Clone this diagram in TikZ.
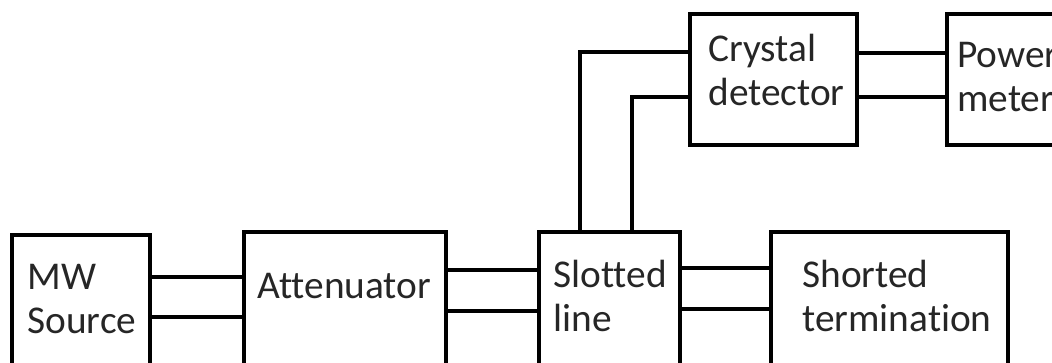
\documentclass[tikz,border=0pt]{standalone}
\usepackage{fontspec}
\setmainfont{Carlito}[Ligatures=NoCommon]
\usetikzlibrary{positioning}
\begin{document}
\begin{tikzpicture}[
  x=0.02cm, y=-0.02cm,
  box/.style={draw, line width=2pt, anchor=north west, inner sep=0pt},
  lbl/.style={anchor=base west, align=left, inner sep=0pt, text=black!85, font=\fontsize{22.4}{25}\selectfont},
  wire/.style={line width=1.8pt},
]
\clip (0,0) rectangle (1052,362);
% --- Blocks ---
\foreach \n/\x/\y/\w/\h in {mw/10/233/138/160, att/242/230/202/160, slot/537/230/141/160, short/769/230/237/160, crys/688/12/167/131, pow/945/12/140/131}{
  \node[box, minimum width=\w*0.02cm, minimum height=\h*0.02cm] (\n) at (\x,\y) {};
}

% --- Labels (base = last line) ---
\node[lbl] (mwlbl) at (27,333) {MW\\Source};
\node[lbl] (attlbl) at (257,298) {Attenuator};
\node[lbl] (slotlbl) at (553,331) {Slotted\\line};
\node[lbl] (shortlbl) at (802,331) {Shorted\\termination};
\node[lbl] (cryslbl) at (708,105) {Crystal\\detector};
\node[lbl] (powlbl) at (957,111) {Power\\meter};

% --- Twin lines between blocks ---
\foreach \a/\b/\u/\l in {mw/att/277/317, att/slot/270/311, slot/short/268/309, crys/pow/53/97}{
  \draw[wire] (\a.east |- 0,\u) -- (\b.west |- 0,\u);
  \draw[wire] (\a.east |- 0,\l) -- (\b.west |- 0,\l);
}

% --- Slotted line to detector ---
\draw[wire] (slot.north -| 580,0) |- (crys.west |- 0,52);
\draw[wire] (slot.north -| 632,0) |- (crys.west |- 0,97);
\end{tikzpicture}
\end{document}
